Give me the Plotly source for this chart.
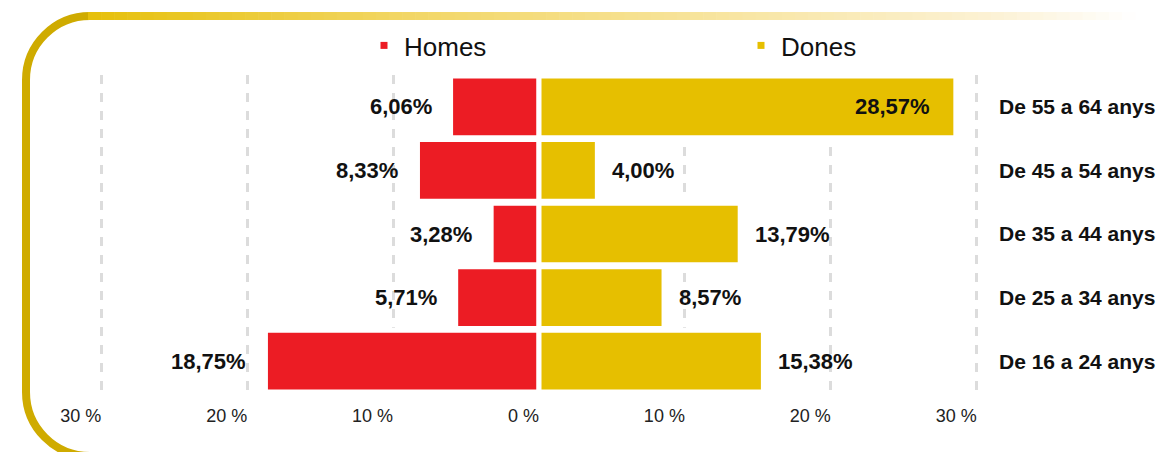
import plotly.graph_objects as go

# ---------------- data ----------------
categories = ["De 16 a 24 anys", "De 25 a 34 anys", "De 35 a 44 anys",
              "De 45 a 54 anys", "De 55 a 64 anys"]
homes = [18.75, 5.71, 3.28, 8.33, 6.06]
dones = [15.38, 8.57, 13.79, 4.00, 28.57]
tick_vals = [-30, -20, -10, 0, 10, 20, 30]
tick_text = ["30 %", "20 %", "10 %", "0 %", "10 %", "20 %", "30 %"]
series_names = ["Homes", "Dones"]

# ---------------- style ----------------
RED = "#EC1C24"
GOLD = "#E6BF00"
BOLDF = "Liberation Sans, Arial, sans-serif"
REG = "Liberation Sans, Arial, sans-serif"

OFF = 8  # page body margin of the browser
WIDTH, HEIGHT = 1166 - OFF, 452 - OFF
L, R, T, B = 86, 182, 67, 59
PW = WIDTH - L - R
PH = HEIGHT - T - B


def fmt(v):
    return f"{v:.2f}".replace(".", ",") + "%"


def pxx(x):  # window pixel -> paper x
    return (x - OFF - L) / PW


def pxy(y):  # window pixel -> paper y
    return (HEIGHT - B - (y - OFF)) / PH


fig = go.Figure()

fig.add_trace(go.Bar(
    y=categories, x=[-v for v in homes], orientation="h",
    marker=dict(color=RED, line=dict(color="white", width=5)),
    showlegend=False, hoverinfo="skip"))
fig.add_trace(go.Bar(
    y=categories, x=dones, orientation="h",
    marker=dict(color=GOLD, line=dict(color="white", width=5)),
    showlegend=False, hoverinfo="skip"))

# legend entries (small square markers)
for name, col in zip(series_names, [RED, GOLD]):
    fig.add_trace(go.Scatter(
        x=[None], y=[None], mode="markers", name=name,
        marker=dict(symbol="square", size=7, color=col)))

annotations = []
for cat, v in zip(categories, homes):
    annotations.append(dict(
        x=-v, y=cat, xref="x", yref="y", text=fmt(v), showarrow=False,
        xanchor="right", xshift=-17,
        font=dict(family=BOLDF, size=22, color="#111111", weight="bold")))
for cat, v in zip(categories, dones):
    inside = v > 25
    annotations.append(dict(
        x=v, y=cat, xref="x", yref="y", text=fmt(v), showarrow=False,
        xanchor="right" if inside else "left",
        xshift=-24 if inside else 13,
        font=dict(family=BOLDF, size=22, color="#111111", weight="bold")))

# ---------------- decorative frame ----------------
shapes = []
k = 0.5523 * 64
left_path = (
    f"M {pxx(90)},{pxy(16)} "
    f"C {pxx(90 - k)},{pxy(16)} {pxx(26)},{pxy(80 - k)} {pxx(26)},{pxy(80)} "
    f"L {pxx(26)},{pxy(392)} "
    f"C {pxx(26)},{pxy(392 + k)} {pxx(90 - k)},{pxy(456)} {pxx(90)},{pxy(456)}"
)
shapes.append(dict(type="path", xref="paper", yref="paper", path=left_path,
                   line=dict(color="#CFAB00", width=8), layer="below"))

stops = [(88, (230, 192, 10)), (400, (242, 214, 100)), (750, (248, 230, 165)),
         (1000, (252, 242, 214)), (1135, (255, 255, 255))]
nseg = 80
x0, x1 = 88, 1135
for i in range(nseg):
    a = x0 + (x1 - x0) * i / nseg
    b = x0 + (x1 - x0) * (i + 1) / nseg
    m = (a + b) / 2
    for j in range(len(stops) - 1):
        if stops[j][0] <= m <= stops[j + 1][0]:
            t = (m - stops[j][0]) / (stops[j + 1][0] - stops[j][0])
            c = tuple(round(stops[j][1][n] + (stops[j + 1][1][n] - stops[j][1][n]) * t) for n in range(3))
            break
    shapes.append(dict(type="line", xref="paper", yref="paper",
                       x0=pxx(a), x1=pxx(b + 0.6), y0=pxy(16), y1=pxy(16),
                       line=dict(color=f"rgb{c}", width=8), layer="below"))

fig.update_layout(
    width=WIDTH, height=HEIGHT,
    margin=dict(l=L, r=R, t=T, b=B, autoexpand=False),
    paper_bgcolor="white", plot_bgcolor="white",
    barmode="overlay", bargap=0.03,
    showlegend=True,
    legend=dict(orientation="h", x=pxx(364), xanchor="left",
                y=pxy(22), yanchor="top", entrywidth=332,
                font=dict(family=REG, size=26, color="#111111"),
                bgcolor="rgba(0,0,0,0)", itemclick=False),
    xaxis=dict(range=[-30.5, 30.5], tickvals=tick_vals, ticktext=tick_text,
               ticklabelposition="outside left", automargin=False,
               ticklabelstandoff=10,
               showgrid=True, gridcolor="#DCDCDC", gridwidth=3, griddash="dash",
               zeroline=False, showline=False, ticks="",
               tickfont=dict(family=REG, size=18, color="#222222"),
               fixedrange=True),
    yaxis=dict(side="right", showgrid=False, zeroline=False, showline=False,
               ticks="", ticklabelstandoff=14, automargin=False,
               tickfont=dict(family=BOLDF, size=21, color="#111111", weight="bold"),
               fixedrange=True),
    annotations=annotations,
    shapes=shapes,
)

fig.write_html("out.html")
